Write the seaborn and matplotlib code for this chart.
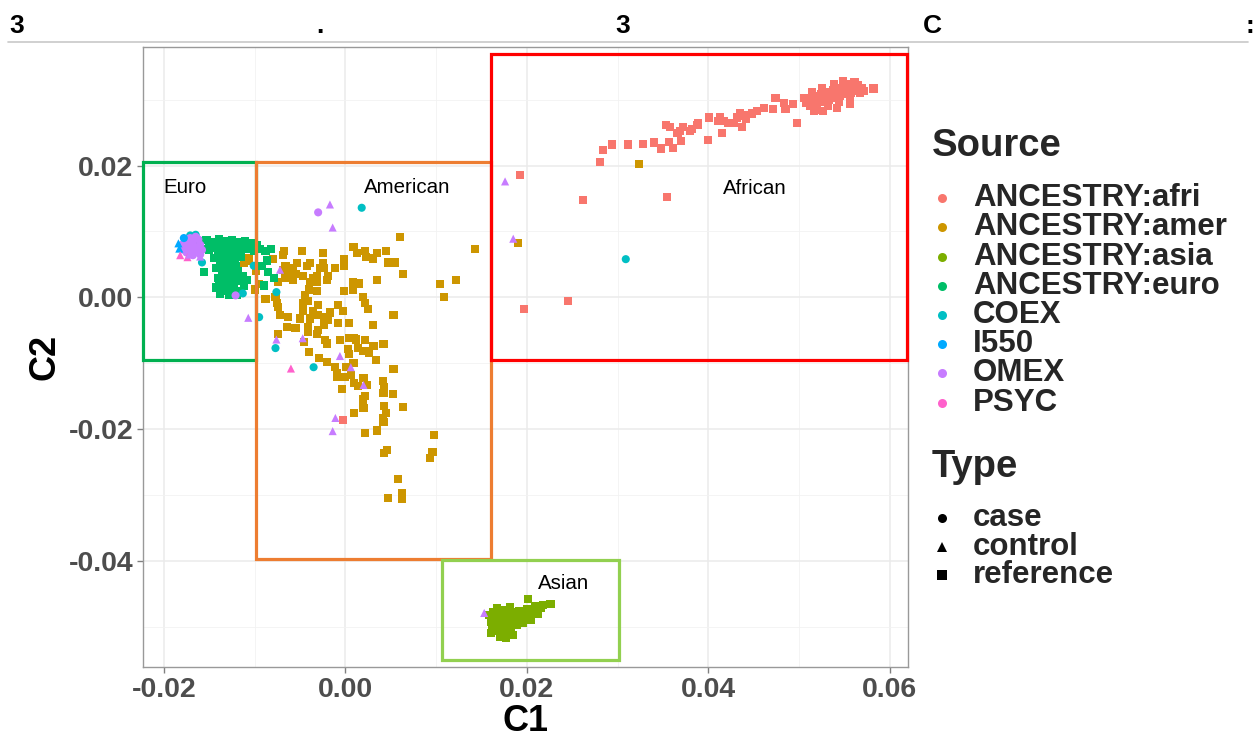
import matplotlib
matplotlib.use("Agg")
import matplotlib.pyplot as plt
import seaborn as sns
import pandas as pd
from matplotlib.patches import Rectangle
from matplotlib.lines import Line2D

# ---------------- data ----------------
sources = ["ANCESTRY:afri", "ANCESTRY:amer", "ANCESTRY:asia", "ANCESTRY:euro",
           "COEX", "I550", "OMEX", "PSYC"]
source_colors = ["#F8766D", "#CD9600", "#7CAE00", "#00BE67",
                 "#00BFC4", "#00A9FF", "#C77CFF", "#FF61CC"]
types = ["case", "control", "reference"]
type_markers = ["o", "^", "s"]

afri_reference = [
    (0.0582, 0.0317), (0.0498, 0.0265), (0.0516, 0.0283), (0.0526, 0.0283), (0.0542, 0.0288),
    (0.0556, 0.0294), (0.0485, 0.0286), (0.0493, 0.0294), (0.0483, 0.0295), (0.0474, 0.0302),
    (0.0471, 0.0286), (0.0461, 0.0288), (0.0454, 0.0283), (0.0448, 0.0279), (0.0439, 0.0276),
    (0.0435, 0.0279), (0.0441, 0.0271), (0.0437, 0.0258), (0.0432, 0.0273), (0.0428, 0.0265),
    (0.0422, 0.0265), (0.0413, 0.0273), (0.0411, 0.0268), (0.0417, 0.0268), (0.0415, 0.0250),
    (0.0401, 0.0273), (0.0400, 0.0239), (0.0389, 0.0264), (0.0388, 0.0261), (0.0382, 0.0256),
    (0.0380, 0.0253), (0.0372, 0.0258), (0.0369, 0.0253), (0.0366, 0.0250), (0.0358, 0.0258),
    (0.0353, 0.0261), (0.0370, 0.0238), (0.0361, 0.0227), (0.0357, 0.0236), (0.0348, 0.0226),
    (0.0340, 0.0235), (0.0328, 0.0233), (0.0311, 0.0232), (0.0294, 0.0232), (0.0284, 0.0223),
    (0.0281, 0.0206), (0.0192, 0.0186), (0.0262, 0.0148), (0.0354, 0.0153), (0.0245, -0.0006),
    (0.0197, -0.0017), (-0.0003, -0.0186),
    (0.0508, 0.0295), (0.0510, 0.0302), (0.0512, 0.0290), (0.0515, 0.0298), (0.0517, 0.0306),
    (0.0520, 0.0293), (0.0522, 0.0301), (0.0524, 0.0309), (0.0527, 0.0296), (0.0529, 0.0304),
    (0.0531, 0.0312), (0.0533, 0.0299), (0.0535, 0.0307), (0.0537, 0.0315), (0.0539, 0.0302),
    (0.0541, 0.0310), (0.0543, 0.0318), (0.0545, 0.0305), (0.0547, 0.0313), (0.0549, 0.0321),
    (0.0551, 0.0308), (0.0553, 0.0316), (0.0555, 0.0324), (0.0557, 0.0311), (0.0559, 0.0319),
    (0.0561, 0.0327), (0.0563, 0.0314), (0.0565, 0.0322), (0.0567, 0.0310), (0.0569, 0.0318),
    (0.0571, 0.0313), (0.0548, 0.0329), (0.0538, 0.0324), (0.0525, 0.0318), (0.0514, 0.0311),
    (0.0506, 0.0303), (0.0532, 0.0290), (0.0544, 0.0296), (0.0556, 0.0300), (0.0519, 0.0285),
]

amer_reference = [
    (0.0060, 0.0092), (0.0143, 0.0074), (0.0009, 0.0077), (0.0013, 0.0067), (0.0022, 0.0070),
    (0.0023, 0.0061), (0.0030, 0.0059), (0.0035, 0.0067), (0.0045, 0.0070), (0.0047, 0.0053),
    (0.0055, 0.0053), (0.0064, 0.0035), (0.0104, 0.0020), (0.0122, 0.0026), (0.0109, 0.0000),
    (-0.0025, 0.0067), (-0.0048, 0.0070), (-0.0068, 0.0071), (-0.0069, 0.0064), (-0.0080, 0.0058),
    (-0.0002, 0.0058), (-0.0002, 0.0048), (-0.0011, 0.0044), (-0.0025, 0.0052), (-0.0024, 0.0045),
    (-0.0028, 0.0045), (-0.0019, 0.0033), (-0.0039, 0.0052), (-0.0042, 0.0048), (-0.0053, 0.0052),
    (-0.0058, 0.0045), (-0.0055, 0.0036), (-0.0047, 0.0033), (-0.0061, 0.0038), (-0.0066, 0.0047),
    (-0.0069, 0.0041), (-0.0031, 0.0033), (-0.0036, 0.0030), (-0.0039, 0.0023), (-0.0020, 0.0026),
    (-0.0058, 0.0026), (-0.0066, 0.0029), (-0.0074, 0.0023), (-0.0031, 0.0023), (-0.0031, 0.0009),
    (-0.0040, 0.0012), (0.0008, 0.0024), (0.0015, 0.0021), (0.0008, 0.0012), (-0.0002, 0.0009),
    (0.0019, 0.0000), (0.0022, -0.0009), (0.0025, -0.0017), (0.0035, 0.0026), (0.0053, -0.0027),
    (0.0030, -0.0042), (-0.0044, 0.0003), (-0.0047, -0.0008), (-0.0041, -0.0005), (-0.0047, -0.0020),
    (-0.0036, -0.0020), (-0.0030, -0.0012), (-0.0039, -0.0032), (-0.0030, -0.0027), (-0.0024, -0.0030),
    (-0.0017, -0.0023), (-0.0019, -0.0035), (-0.0008, -0.0012), (-0.0003, -0.0021), (-0.0008, -0.0039),
    (0.0004, -0.0039), (-0.0077, 0.0000), (-0.0075, -0.0009), (-0.0074, -0.0015), (-0.0072, -0.0027),
    (-0.0063, -0.0030), (-0.0050, -0.0032), (-0.0064, -0.0045), (-0.0055, -0.0047), (-0.0041, -0.0045),
    (-0.0041, -0.0053), (-0.0031, -0.0055), (-0.0030, -0.0050), (-0.0024, -0.0042), (-0.0074, -0.0055),
    (-0.0046, -0.0068), (-0.0022, -0.0065), (-0.0020, -0.0070), (-0.0006, -0.0065), (0.0004, -0.0061),
    (0.0009, -0.0062), (0.0012, -0.0064), (0.0022, -0.0065), (0.0031, -0.0074), (0.0042, -0.0071),
    (-0.0040, -0.0083), (-0.0029, -0.0092), (-0.0020, -0.0098), (0.0003, -0.0079), (0.0004, -0.0086),
    (0.0014, -0.0077), (0.0019, -0.0082), (0.0022, -0.0082), (0.0026, -0.0085), (0.0034, -0.0095),
    (0.0053, -0.0109), (-0.0011, -0.0106), (-0.0009, -0.0115), (-0.0009, -0.0121), (0.0000, -0.0121),
    (0.0006, -0.0118), (0.0001, -0.0106), (0.0009, -0.0100), (0.0010, -0.0130), (0.0014, -0.0135),
    (0.0020, -0.0123), (0.0024, -0.0133), (0.0041, -0.0127), (0.0043, -0.0136), (0.0042, -0.0145),
    (0.0052, -0.0147), (-0.0004, -0.0139), (0.0022, -0.0150), (0.0019, -0.0155), (0.0064, -0.0167),
    (0.0043, -0.0165), (0.0045, -0.0176), (0.0041, -0.0183), (0.0042, -0.0189), (0.0010, -0.0176),
    (0.0020, -0.0168), (0.0035, -0.0202), (0.0022, -0.0206), (0.0098, -0.0209), (0.0096, -0.0235),
    (0.0093, -0.0244), (0.0046, -0.0232), (0.0043, -0.0236), (0.0058, -0.0276), (0.0062, -0.0297),
    (0.0062, -0.0306), (0.0047, -0.0305), (0.0324, 0.0202), (0.0190, 0.0083), (-0.0112, 0.0052),
    (-0.0106, 0.0060), (-0.0098, 0.0040), (-0.0095, 0.0020), (-0.0088, -0.0002), (-0.0100, 0.0012),
    (-0.0107, 0.0056),
]

asia_reference = [
    (0.0158, -0.0482), (0.0160, -0.0492), (0.0162, -0.0502), (0.0164, -0.0487), (0.0166, -0.0497),
    (0.0168, -0.0507), (0.0170, -0.0480), (0.0172, -0.0490), (0.0174, -0.0500), (0.0176, -0.0510),
    (0.0178, -0.0485), (0.0180, -0.0495), (0.0182, -0.0505), (0.0184, -0.0478), (0.0186, -0.0490),
    (0.0170, -0.0515), (0.0177, -0.0517), (0.0163, -0.0477), (0.0188, -0.0483), (0.0191, -0.0476),
    (0.0194, -0.0488), (0.0197, -0.0480), (0.0200, -0.0473), (0.0203, -0.0484), (0.0206, -0.0476),
    (0.0209, -0.0469), (0.0212, -0.0480), (0.0215, -0.0472), (0.0218, -0.0467), (0.0196, -0.0494),
    (0.0189, -0.0497), (0.0205, -0.0490), (0.0201, -0.0458), (0.0226, -0.0465),
    (0.0167, -0.0472), (0.0175, -0.0475), (0.0160, -0.0510), (0.0185, -0.0512), (0.0192, -0.0486),
    (0.0181, -0.0470), (0.0199, -0.0486), (0.0211, -0.0474),
]

euro_reference = [
    (-0.0160, 0.0085), (-0.0153, 0.0087), (-0.0146, 0.0084), (-0.0139, 0.0088), (-0.0132, 0.0085),
    (-0.0125, 0.0087), (-0.0118, 0.0084), (-0.0111, 0.0086), (-0.0104, 0.0083), (-0.0097, 0.0080),
    (-0.0157, 0.0074), (-0.0150, 0.0072), (-0.0143, 0.0075), (-0.0136, 0.0073), (-0.0129, 0.0076),
    (-0.0122, 0.0072), (-0.0115, 0.0075), (-0.0108, 0.0073), (-0.0101, 0.0071), (-0.0094, 0.0074),
    (-0.0088, 0.0070), (-0.0145, 0.0060), (-0.0138, 0.0055), (-0.0130, 0.0060), (-0.0122, 0.0055),
    (-0.0115, 0.0062), (-0.0142, 0.0045), (-0.0134, 0.0040), (-0.0126, 0.0045), (-0.0118, 0.0040),
    (-0.0140, 0.0030), (-0.0132, 0.0025), (-0.0124, 0.0030), (-0.0116, 0.0025), (-0.0143, 0.0015),
    (-0.0135, 0.0010), (-0.0127, 0.0015), (-0.0119, 0.0010), (-0.0112, 0.0018), (-0.0138, 0.0005),
    (-0.0128, 0.0003), (-0.0120, 0.0004), (-0.0156, 0.0039), (-0.0082, 0.0074), (-0.0086, 0.0056),
    (-0.0085, 0.0038), (-0.0079, 0.0029), (-0.0090, 0.0018), (-0.0108, 0.0026), (-0.0092, 0.0048),
    (-0.0150, 0.0080), (-0.0142, 0.0079), (-0.0134, 0.0081), (-0.0126, 0.0079), (-0.0118, 0.0080),
    (-0.0110, 0.0079), (-0.0140, 0.0067), (-0.0132, 0.0068), (-0.0124, 0.0066), (-0.0116, 0.0068),
    (-0.0137, 0.0050), (-0.0129, 0.0052), (-0.0121, 0.0048), (-0.0136, 0.0035), (-0.0128, 0.0037),
    (-0.0120, 0.0033), (-0.0139, 0.0022), (-0.0131, 0.0020), (-0.0123, 0.0021), (-0.0113, 0.0032),
]

coex_case = [
    (0.0018, 0.0136), (0.0309, 0.0058), (-0.0095, -0.0030), (-0.0077, -0.0077), (-0.0035, -0.0106),
    (-0.0076, 0.0008), (-0.0113, 0.0006), (-0.0158, 0.0053), (-0.0101, 0.0048), (-0.0171, 0.0094),
    (-0.0165, 0.0095),
]

i550_control = [(-0.0184, 0.0082), (-0.0183, 0.0074)]
i550_case = [(-0.0178, 0.0090)]

omex_case = [
    (-0.0180, 0.0080), (-0.0175, 0.0088), (-0.0170, 0.0075), (-0.0168, 0.0085), (-0.0163, 0.0070),
    (-0.0160, 0.0080), (-0.0175, 0.0068), (-0.0165, 0.0092), (-0.0172, 0.0078), (-0.0178, 0.0072),
    (-0.0160, 0.0065), (-0.0168, 0.0064), (-0.0030, 0.0129), (-0.0121, 0.0003),
    (-0.0176, 0.0082), (-0.0171, 0.0090), (-0.0166, 0.0077), (-0.0162, 0.0088), (-0.0158, 0.0072),
    (-0.0173, 0.0071), (-0.0169, 0.0068),
]
omex_control = [
    (-0.0017, 0.0141), (-0.0014, 0.0106), (0.0176, 0.0176), (0.0185, 0.0089), (-0.0107, -0.0031),
    (-0.0072, 0.0042), (-0.0076, -0.0064), (-0.0047, -0.0062), (-0.0006, -0.0089), (0.0020, -0.0133),
    (-0.0011, -0.0183), (-0.0014, -0.0203), (0.0153, -0.0479), (-0.0172, 0.0065), (-0.0160, 0.0062),
    (0.0006, -0.0106),
]

psyc_control = [(-0.0182, 0.0064), (-0.0174, 0.0061), (-0.0060, -0.0108)]

groups = [
    ("ANCESTRY:afri", "reference", afri_reference),
    ("ANCESTRY:amer", "reference", amer_reference),
    ("ANCESTRY:asia", "reference", asia_reference),
    ("ANCESTRY:euro", "reference", euro_reference),
    ("COEX", "case", coex_case),
    ("OMEX", "case", omex_case),
    ("I550", "case", i550_case),
    ("I550", "control", i550_control),
    ("PSYC", "control", psyc_control),
    ("OMEX", "control", omex_control),
]

# annotation boxes drawn over the plot
region_names = ["Euro", "American", "African", "Asian"]
region_x = [(-0.0223, -0.0099), (-0.0099, 0.0161), (0.0161, 0.0619), (0.0106, 0.0302)]
region_y = [(-0.0095, 0.0205), (-0.0397, 0.0205), (-0.0095, 0.0370), (-0.0550, -0.0398)]
region_colors = ["#00B050", "#ED7D31", "#FF0000", "#92D050"]
region_label_pos = [(-0.0177, 0.0167), (0.0068, 0.0167), (0.0451, 0.0165), (0.0240, -0.0435)]

x_ticks = [-0.02, 0.00, 0.02, 0.04, 0.06]
x_tick_labels = ["-0.02", "0.00", "0.02", "0.04", "0.06"]
y_ticks = [-0.04, -0.02, 0.00, 0.02]
y_tick_labels = ["-0.04", "-0.02", "0.00", "0.02"]
x_minor = [-0.01, 0.01, 0.03, 0.05]
y_minor = [-0.05, -0.03, -0.01, 0.01, 0.03]

header_chars = ["3", ".", "3", "C", ":"]
header_x = [17, 320, 623, 932, 1250]

# ---------------- build table ----------------
rows = []
for src, typ, pts in groups:
    for c1, c2 in pts:
        rows.append({"C1": c1, "C2": c2, "Source": src, "Type": typ})
df = pd.DataFrame(rows)

sns.set_theme(style="white")
plt.rcParams["font.family"] = ["Liberation Sans", "DejaVu Sans"]

W, H = 1257, 741
fig = plt.figure(figsize=(W / 100, H / 100), dpi=100)
L, R, T, B = 143, 908, 47, 667
ax = fig.add_axes([L / W, 1 - B / H, (R - L) / W, (B - T) / H])

palette = dict(zip(sources, source_colors))
markers = dict(zip(types, type_markers))
sns.scatterplot(data=df, x="C1", y="C2", hue="Source", style="Type",
                hue_order=sources, style_order=types, palette=palette,
                markers=markers, s=34, linewidth=0, legend=False, ax=ax, zorder=3)

ax.set_xlim(-0.0223, 0.0620)
ax.set_ylim(-0.0561, 0.0380)
ax.set_xticks(x_ticks)
ax.set_xticklabels(x_tick_labels)
ax.set_yticks(y_ticks)
ax.set_yticklabels(y_tick_labels)
ax.set_xticks(x_minor, minor=True)
ax.set_yticks(y_minor, minor=True)
for lab in ax.get_xticklabels() + ax.get_yticklabels():
    lab.set_fontsize(20.5)
    lab.set_fontweight("bold")
    lab.set_color("#4D4D4D")
ax.tick_params(which="major", direction="out", length=4, width=1, color="#808080",
               bottom=True, left=True, pad=3)
ax.tick_params(which="minor", length=0)
ax.grid(which="major", color="#EBEBEB", linewidth=1.1)
ax.grid(which="minor", color="#F2F2F2", linewidth=0.6)
ax.set_axisbelow(True)
for sp in ax.spines.values():
    sp.set_color("#999999")
    sp.set_linewidth(1.0)
ax.set_xlabel("C1", fontsize=26, fontweight="bold", color="black", labelpad=1)
ax.set_ylabel("C2", fontsize=26, fontweight="bold", color="black", labelpad=4)

for name, (x0, x1), (y0, y1), col, (lx, ly) in zip(region_names, region_x, region_y,
                                                  region_colors, region_label_pos):
    ax.add_patch(Rectangle((x0, y0), x1 - x0, y1 - y0, fill=False, edgecolor=col,
                           linewidth=2.3, zorder=5, clip_on=False))
    ax.text(lx, ly, name, fontsize=14.8, color="black", ha="center", va="center", zorder=6)

# header strip
for ch, hx in zip(header_chars, header_x):
    fig.text(hx / W, 1 - 26 / H, ch, fontsize=19, fontweight="bold", ha="center",
             va="center", color="black")
fig.add_artist(Line2D([8 / W, 1248 / W], [1 - 42 / H, 1 - 42 / H], color="#C8C8C8",
                      linewidth=1.2, transform=fig.transFigure))

# legends (drawn manually to match ggplot layout)
def fy(py):
    return 1 - py / H

fig.text(932 / W, fy(146), "Source", fontsize=27.5, fontweight="bold", ha="left", va="center")
src_rows = [198, 227, 257, 286, 315, 344, 373, 403]
for src, col, py in zip(sources, source_colors, src_rows):
    fig.add_artist(Line2D([942 / W], [fy(py)], marker="o", markersize=6.5, color=col,
                          linestyle="none", markeredgewidth=0, transform=fig.transFigure))
    fig.text(973 / W, fy(py), src, fontsize=22.5, fontweight="bold", ha="left", va="center")

fig.text(932 / W, fy(467), "Type", fontsize=27.5, fontweight="bold", ha="left", va="center")
type_rows = [518, 547, 575]
for typ, mk, py in zip(types, type_markers, type_rows):
    fig.add_artist(Line2D([942 / W], [fy(py)], marker=mk, markersize=6.5, color="black",
                          linestyle="none", markeredgewidth=0, transform=fig.transFigure))
    fig.text(973 / W, fy(py), typ, fontsize=22.5, fontweight="bold", ha="left", va="center")

fig.savefig("out.png", dpi=100, facecolor="white")
